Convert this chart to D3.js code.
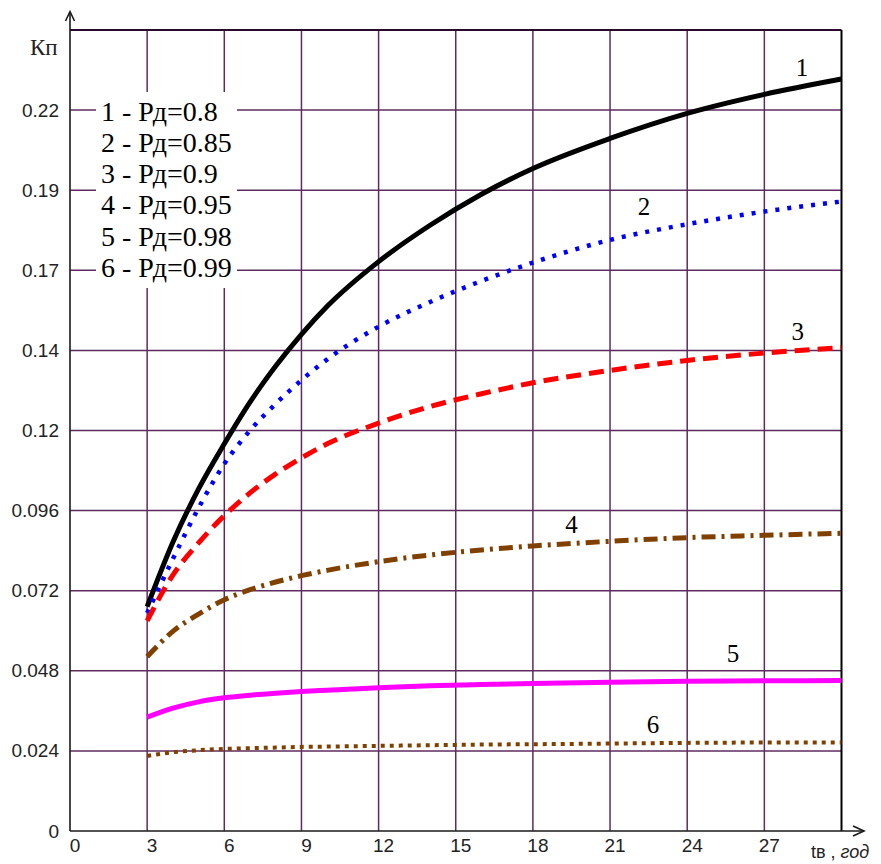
<!DOCTYPE html>
<html>
<head>
<meta charset="utf-8">
<script src="https://cdn.jsdelivr.net/npm/d3@7/dist/d3.min.js"></script>
<style>
  body { margin: 0; background: #fff; }
  svg { display: block; }
  .serif { font-family: "Liberation Serif", "Times New Roman", "DejaVu Serif", serif; }
  .ticks { font-family: "Liberation Sans Narrow", "Liberation Sans", Arial, sans-serif; }
</style>
</head>
<body>
<svg id="chart"></svg>
<script>
const dimensions = {
  width: 881,
  height: 864,
  margin: { top: 30, right: 39.5, bottom: 33, left: 70 }
};

// service time, years
const tValues = [3, 4, 5, 6, 7, 8, 9, 10, 12, 14, 16, 18, 21, 24, 27, 30];

const kp1 = [0.0672, 0.0865, 0.1025, 0.1160, 0.1285, 0.1393, 0.1488, 0.1572, 0.1706, 0.1815, 0.1908, 0.1985, 0.2075, 0.2150, 0.2207, 0.2253];
const kp2 = [0.0653, 0.0815, 0.0968, 0.1100, 0.1200, 0.1280, 0.1351, 0.1413, 0.1511, 0.1585, 0.1648, 0.1703, 0.1771, 0.1818, 0.1856, 0.1886];
const kp3 = [0.0630, 0.0767, 0.0863, 0.0945, 0.1013, 0.1070, 0.1118, 0.1160, 0.1222, 0.1272, 0.1310, 0.1343, 0.1380, 0.1410, 0.1432, 0.1448];
const kp4 = [0.0522, 0.0598, 0.0650, 0.0693, 0.0723, 0.0746, 0.0765, 0.0781, 0.0807, 0.0827, 0.0842, 0.0854, 0.0868, 0.0879, 0.0886, 0.0892];
const kp5 = [0.0341, 0.0368, 0.0387, 0.0399, 0.0407, 0.0413, 0.0418, 0.0422, 0.0429, 0.0435, 0.0439, 0.0442, 0.0446, 0.0449, 0.0450, 0.0451];
const kp6 = [0.0225, 0.0236, 0.0242, 0.0246, 0.0248, 0.0250, 0.0252, 0.0253, 0.0255, 0.0257, 0.0259, 0.0260, 0.0262, 0.0264, 0.0265, 0.0265];

const seriesNames = ['1', '2', '3', '4', '5', '6'];
const legendLabels = ['1 - Рд=0.8', '2 - Рд=0.85', '3 - Рд=0.9', '4 - Рд=0.95', '5 - Рд=0.98', '6 - Рд=0.99'];
// where the curve numbers sit, in data units [t, Kп]
const labelT = [28.46, 22.32, 28.3, 19.5, 25.78, 22.67];
const labelK = [0.2262, 0.1846, 0.1471, 0.0893, 0.0506, 0.0294];

const xTicks = [0, 3, 6, 9, 12, 15, 18, 21, 24, 27];
const yTicks = [0, 0.024, 0.048, 0.072, 0.096, 0.12, 0.144, 0.168, 0.192, 0.216];
const yTickLabels = ['0', '0.024', '0.048', '0.072', '0.096', '0.12', '0.14', '0.17', '0.19', '0.22'];

const seriesStyles = [
  { color: '#000000', width: 5, dash: null },
  { color: '#0000ff', width: 4.5, dash: '4,8' },
  { color: '#ff0000', width: 5, dash: '15,8' },
  { color: '#804000', width: 5, dash: '14,6,3,6' },
  { color: '#ff00ff', width: 5, dash: null },
  { color: '#804000', width: 4, dash: '4,5' }
];

const gridColor = '#5e2b5e';

const { width, height, margin } = dimensions;
const x0 = margin.left;
const x1 = width - margin.right;
const y0 = height - margin.bottom;
const y1 = margin.top;

const xScale = d3.scaleLinear().domain([0, 30]).range([x0, x1]);
const yScale = d3.scaleLinear().domain([0, 0.24]).range([y0, y1]);

const svg = d3.select('#chart').attr('width', width).attr('height', height);

// grid
const grid = svg.append('g').attr('class', 'grid');
grid
  .selectAll('.vgrid')
  .data(xTicks.filter((t) => t > 0))
  .join('line')
  .attr('class', 'vgrid')
  .attr('x1', (t) => xScale(t))
  .attr('x2', (t) => xScale(t))
  .attr('y1', y0)
  .attr('y2', y1)
  .attr('stroke', gridColor)
  .attr('stroke-width', 1.5);

grid
  .selectAll('.hgrid')
  .data(yTicks.filter((v) => v > 0))
  .join('line')
  .attr('class', 'hgrid')
  .attr('x1', x0)
  .attr('x2', x1)
  .attr('y1', (v) => yScale(v))
  .attr('y2', (v) => yScale(v))
  .attr('stroke', gridColor)
  .attr('stroke-width', 1.5);

// top and right frame
svg.append('line')
  .attr('x1', x0).attr('x2', x1)
  .attr('y1', yScale(0.24)).attr('y2', yScale(0.24))
  .attr('stroke', '#2a0a2a').attr('stroke-width', 2.2);
svg.append('line')
  .attr('x1', xScale(30)).attr('x2', xScale(30))
  .attr('y1', y1).attr('y2', y0)
  .attr('stroke', '#000').attr('stroke-width', 2);

// y axis labels
const yAxis = d3.axisLeft(yScale)
  .tickValues(yTicks)
  .tickSize(0)
  .tickPadding(11)
  .tickFormat((d, i) => yTickLabels[i]);
svg.append('g')
  .attr('transform', `translate(${x0},0)`)
  .call(yAxis)
  .call((g) => g.select('.domain').remove())
  .call((g) => g.attr('font-family', null).attr('font-size', null))
  .selectAll('text')
  .attr('class', 'ticks')
  .style('font-size', '19px')
  .attr('fill', '#222');

// x axis labels
const xAxis = d3.axisBottom(xScale)
  .tickValues(xTicks)
  .tickSize(0)
  .tickPadding(8)
  .tickFormat((d) => d);
svg.append('g')
  .attr('transform', `translate(4.5,${y0})`)
  .call(xAxis)
  .call((g) => g.select('.domain').remove())
  .call((g) => g.attr('font-family', null).attr('font-size', null))
  .selectAll('text')
  .attr('class', 'ticks')
  .style('font-size', '19px')
  .attr('fill', '#222');

// axis lines with arrows
const axisColor = '#1a1a1a';
svg.append('line')
  .attr('x1', x0).attr('x2', x0).attr('y1', y0).attr('y2', 12)
  .attr('stroke', axisColor).attr('stroke-width', 1.6);
svg.append('path')
  .attr('d', `M${x0 - 4.5},21 L${x0},11.5 L${x0 + 4.5},21`)
  .attr('fill', 'none').attr('stroke', axisColor).attr('stroke-width', 1.6);
svg.append('line')
  .attr('x1', x0).attr('x2', 864).attr('y1', y0).attr('y2', y0)
  .attr('stroke', axisColor).attr('stroke-width', 1.6);
svg.append('path')
  .attr('d', `M853,${y0 - 5} L864,${y0} L853,${y0 + 5}`)
  .attr('fill', 'none').attr('stroke', axisColor).attr('stroke-width', 1.6);

// axis titles
svg.append('text')
  .attr('class', 'serif')
  .attr('x', 30).attr('y', 55)
  .style('font-size', '23px').attr('fill', '#222')
  .text('Кп');

const xTitle = svg.append('text')
  .attr('class', 'ticks')
  .attr('x', 811).attr('y', 858)
  .style('font-size', '18px').attr('fill', '#222');
xTitle.append('tspan').text('tв , ');
xTitle.append('tspan').attr('font-style', 'italic').text('год');

// legend
const legend = svg.append('g').attr('class', 'legend');
legend.append('rect')
  .attr('x', 96).attr('y', 92).attr('width', 141).attr('height', 196)
  .attr('fill', '#fff');
legend.selectAll('text')
  .data(legendLabels)
  .join('text')
  .attr('class', 'serif')
  .attr('x', 101)
  .attr('y', (d, i) => 120.7 + i * 31.2)
  .style('font-size', '28px')
  .attr('fill', '#000')
  .text((d) => d);

// curves
const seriesData = [kp1, kp2, kp3, kp4, kp5, kp6].map((values, i) => ({
  name: seriesNames[i],
  style: seriesStyles[i],
  points: tValues.map((t, j) => ({ t, k: values[j] }))
}));

const line = d3.line()
  .x((d) => xScale(d.t))
  .y((d) => yScale(d.k))
  .curve(d3.curveMonotoneX);

svg.append('g')
  .attr('class', 'curves')
  .selectAll('path')
  .data(seriesData)
  .join('path')
  .attr('d', (s) => line(s.points))
  .attr('fill', 'none')
  .attr('stroke', (s) => s.style.color)
  .attr('stroke-width', (s) => s.style.width)
  .attr('stroke-dasharray', (s) => s.style.dash)
  .attr('stroke-linejoin', 'round');

// curve numbers
svg.append('g')
  .selectAll('text')
  .data(seriesNames)
  .join('text')
  .attr('class', 'serif')
  .attr('x', (d, i) => xScale(labelT[i]))
  .attr('y', (d, i) => yScale(labelK[i]))
  .attr('text-anchor', 'middle')
  .style('font-size', '25px')
  .attr('fill', '#000')
  .text((d) => d);
</script>
</body>
</html>
